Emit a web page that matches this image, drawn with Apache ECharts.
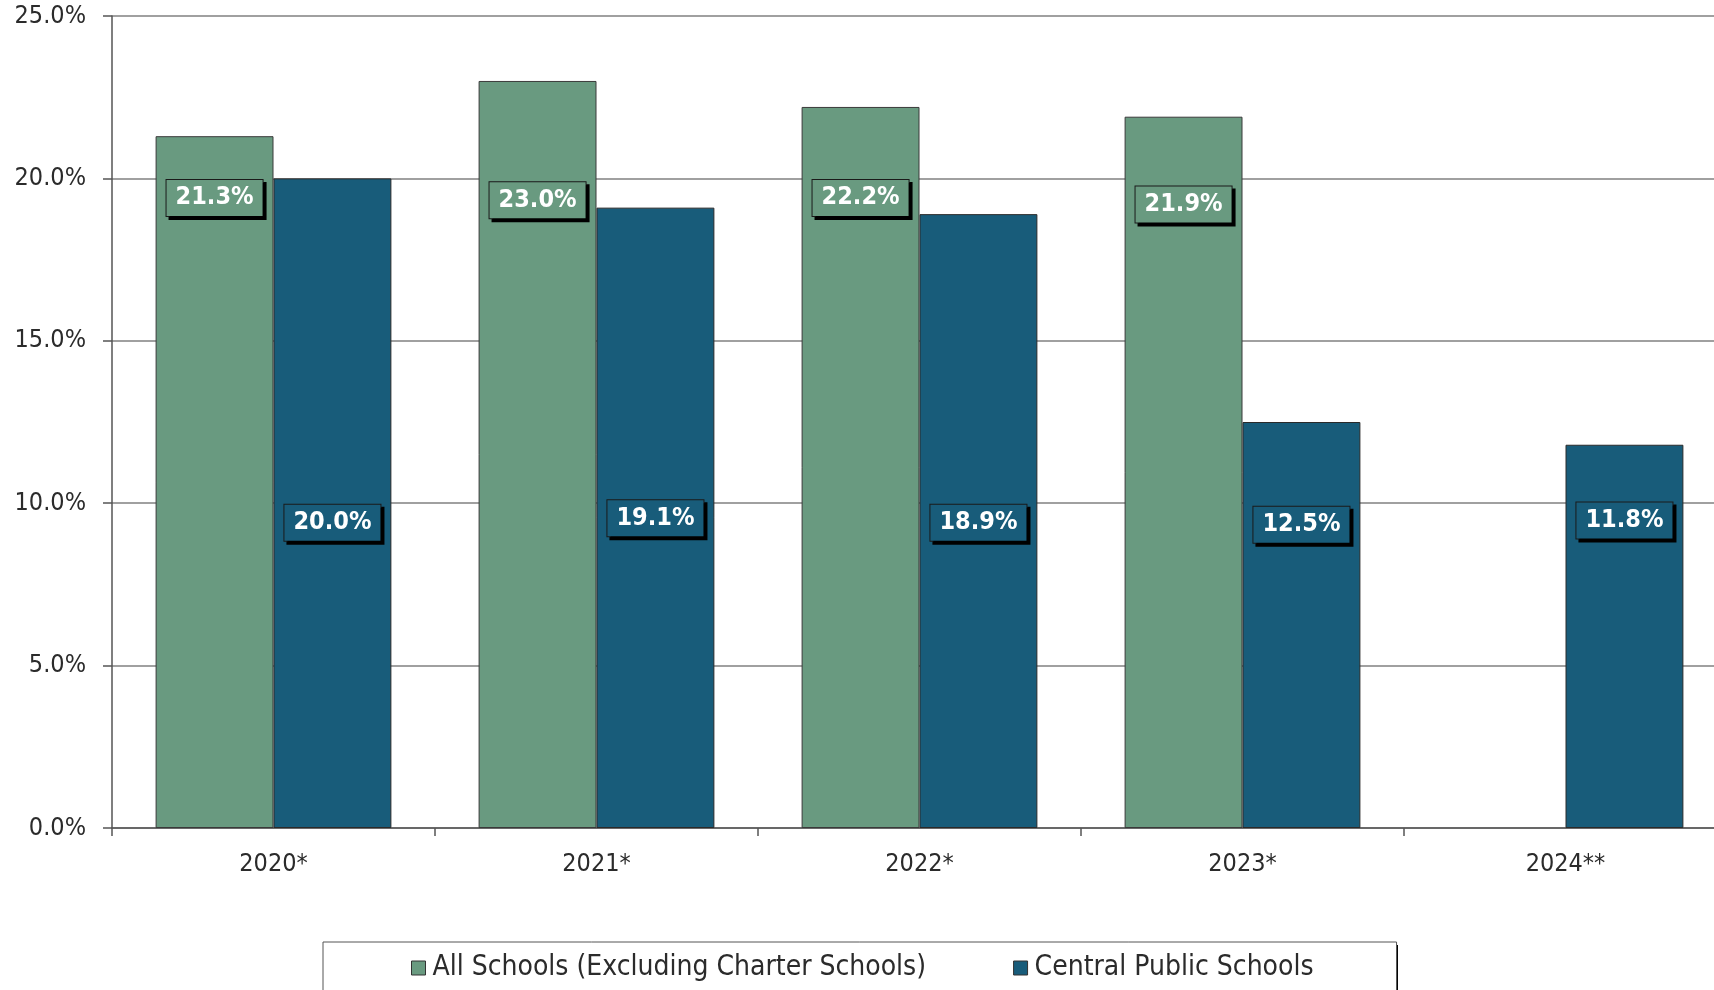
<!DOCTYPE html>
<html>
<head>
<meta charset="utf-8">
<script src="https://cdn.jsdelivr.net/npm/echarts@6/dist/echarts.min.js"></script>
<style>
  html, body { margin: 0; padding: 0; background: #ffffff; }
  #chart { width: 1714px; height: 990px; }
</style>
</head>
<body>
<div id="chart"></div>
<script>
// Years on the category axis
const years = ['2020*', '2021*', '2022*', '2023*', '2024**'];
// Series names
const seriesNames = ['All Schools (Excluding Charter Schools)', 'Central Public Schools'];
// Percent values per year
const allSchools = [21.3, 23.0, 22.2, 21.9, null];
const centralSchools = [20.0, 19.1, 18.9, 12.5, 11.8];
// Value-axis level where each data label box sits
const allSchoolsLabelAt = [19.4, 19.33, 19.4, 19.2, null];
const centralLabelAt = [9.4, 9.54, 9.4, 9.34, 9.47];
// Value-axis ticks
const yMin = 0, yMax = 25, yStep = 5;

const GREEN = '#699a80';
const BLUE = '#185c7a';
const FONT = '"DejaVu Sans Condensed", "DejaVu Sans", sans-serif';

const gridTop = 16, gridBottomPx = 828, chartH = 990;
const legendLeft = 323, legendTop = 942;

function valueToY(v) {
  return gridTop + (yMax - v) / (yMax - yMin) * (gridBottomPx - gridTop);
}

function boxLabel(color) {
  return {
    show: true,
    position: 'inside',
    formatter: p => p.value.toFixed(1) + '%',
    color: '#ffffff',
    fontFamily: FONT,
    fontWeight: 'bold',
    fontSize: 25,
    backgroundColor: color,
    borderColor: '#1a1a1a',
    borderWidth: 1,
    padding: [6, 9, 5, 9],
    shadowColor: '#000000',
    shadowOffsetX: 3,
    shadowOffsetY: 3,
    shadowBlur: 0
  };
}

function placeAt(levels) {
  return p => {
    const v = levels[p.dataIndex];
    if (v == null) return {};
    return {
      x: p.rect.x + p.rect.width / 2,
      y: valueToY(v),
      align: 'center',
      verticalAlign: 'middle'
    };
  };
}

const chart = echarts.init(document.getElementById('chart'), null, { renderer: 'canvas' });

chart.setOption({
  animation: false,
  backgroundColor: '#ffffff',
  grid: {
    left: 112,
    right: -13,
    top: gridTop,
    bottom: chartH - gridBottomPx,
    containLabel: false,
    outerBoundsMode: 'none'
  },
  // dark drop shadow behind the legend box
  graphic: [{
    type: 'rect',
    z: 1,
    silent: true,
    shape: { x: legendLeft + 3, y: legendTop + 3, width: 1072, height: 80 },
    style: { fill: '#000000' }
  }],
  legend: {
    data: seriesNames,
    left: legendLeft,
    top: legendTop,
    z: 5,
    padding: [12, 83, 20, 88],
    itemGap: 87,
    itemWidth: 14,
    itemHeight: 14,
    icon: 'rect',
    itemStyle: { borderColor: '#333333', borderWidth: 1 },
    backgroundColor: '#ffffff',
    borderColor: '#555555',
    borderWidth: 1,
    borderRadius: 0,
    textStyle: { fontFamily: FONT, fontSize: 28, color: '#2b2b2b', padding: [0, 0, 0, 2] }
  },
  xAxis: {
    type: 'category',
    data: years,
    axisLine: { lineStyle: { color: '#555555', width: 1.5 } },
    axisTick: { show: true, length: 8, alignWithLabel: false, lineStyle: { color: '#555555', width: 1.5 } },
    axisLabel: { fontFamily: FONT, fontSize: 25, color: '#2b2b2b', margin: 24 },
    splitLine: { show: false }
  },
  yAxis: {
    type: 'value',
    min: yMin,
    max: yMax,
    interval: yStep,
    axisLine: { show: true, lineStyle: { color: '#555555', width: 1.5 } },
    axisTick: { show: true, length: 9, lineStyle: { color: '#555555', width: 1.5 } },
    axisLabel: {
      fontFamily: FONT, fontSize: 25, color: '#2b2b2b', margin: 26,
      formatter: v => v.toFixed(1) + '%'
    },
    splitLine: { show: true, lineStyle: { color: '#808080', width: 1.5 } }
  },
  series: [
    {
      name: seriesNames[0],
      type: 'bar',
      data: allSchools,
      barGap: '0%',
      barCategoryGap: '27%',
      itemStyle: { color: GREEN, borderColor: '#3a3a3a', borderWidth: 1 },
      label: boxLabel(GREEN),
      labelLayout: placeAt(allSchoolsLabelAt)
    },
    {
      name: seriesNames[1],
      type: 'bar',
      data: centralSchools,
      barGap: '0%',
      barCategoryGap: '27%',
      itemStyle: { color: BLUE, borderColor: '#2a2a2a', borderWidth: 1 },
      label: boxLabel(BLUE),
      labelLayout: placeAt(centralLabelAt)
    }
  ]
});
</script>
</body>
</html>
